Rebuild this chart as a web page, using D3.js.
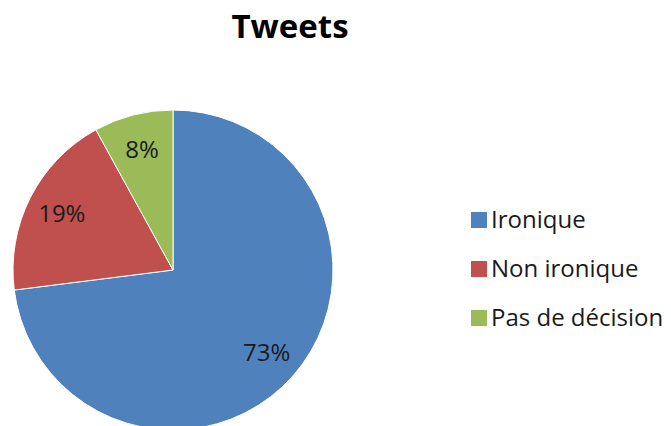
<!DOCTYPE html>
<html>
<head>
<meta charset="utf-8">
<script src="https://cdn.jsdelivr.net/npm/d3@7"></script>
<style>
  body { margin: 0; background: #fff; }
  text { font-family: "Open Sans", "Liberation Sans", sans-serif; }
</style>
</head>
<body>
<svg id="chart" width="671" height="426"></svg>
<script>
// chart data
var categories = ["Ironique", "Non ironique", "Pas de décision"];
var values = [73, 19, 8];
var colors = ["#4F81BD", "#C0504D", "#9BBB59"];
var title = "Tweets";

var svg = d3.select("#chart");

// title
svg.append("text")
    .attr("x", 290)
    .attr("y", 38)
    .attr("text-anchor", "middle")
    .style("font-size", "33px")
    .style("font-weight", "bold")
    .text(title);

var radius = 160;
var pieG = svg.append("g").attr("transform", "translate(173,270)");

var pie = d3.pie().sort(null).value(function (d) { return d; });
var arc = d3.arc().innerRadius(0).outerRadius(radius);
var labelArc = d3.arc().innerRadius(radius * 0.78).outerRadius(radius * 0.78);
var color = d3.scaleOrdinal().domain(categories).range(colors);

var slices = pie(values);

pieG.selectAll("path")
    .data(slices)
    .enter().append("path")
    .attr("d", arc)
    .style("fill", function (d, i) { return color(categories[i]); })
    .style("stroke", "#fff")
    .style("stroke-width", 1);

var total = d3.sum(values);
pieG.selectAll("text.lbl")
    .data(slices)
    .enter().append("text")
    .attr("class", "lbl")
    .attr("transform", function (d) { return "translate(" + labelArc.centroid(d) + ")"; })
    .attr("text-anchor", "middle")
    .attr("dy", "0.35em")
    .style("font-size", "24px")
    .style("fill", "#1a1a1a")
    .text(function (d) { return Math.round(d.data / total * 100) + "%"; });

// legend
var legend = svg.append("g").attr("transform", "translate(471,220)");
var rows = legend.selectAll("g")
    .data(categories)
    .enter().append("g")
    .attr("transform", function (d, i) { return "translate(0," + (i * 49) + ")"; });

rows.append("rect")
    .attr("x", 0)
    .attr("y", -8)
    .attr("width", 16)
    .attr("height", 16)
    .style("fill", function (d) { return color(d); });

rows.append("text")
    .attr("x", 20)
    .attr("y", 0)
    .attr("dy", "0.35em")
    .style("font-size", "24px")
    .style("fill", "#1a1a1a")
    .text(function (d) { return d; });
</script>
</body>
</html>
